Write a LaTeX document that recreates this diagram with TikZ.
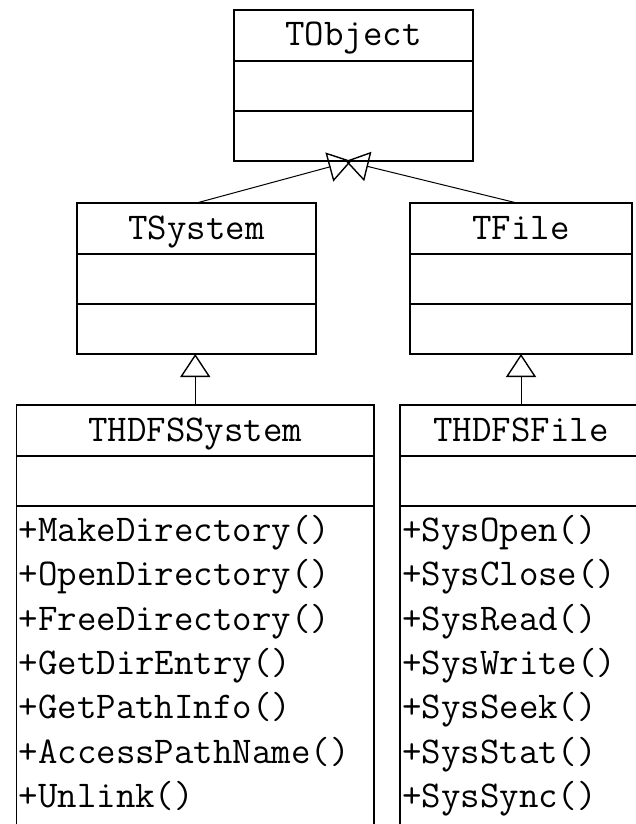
\documentclass[tikz,border=0pt]{standalone}
\usetikzlibrary{positioning,arrows.meta}
\newcommand{\umlfont}{\ttfamily\fontsize{37.8pt}{44.4pt}\selectfont}

\begin{document}
\begin{tikzpicture}[x=1pt,y=-1pt,
    classpart/.style={draw,line width=1.6pt,inner sep=0pt,outer sep=0pt,font=\umlfont},
    classname/.style={classpart,minimum height=51pt,text height=27pt,text depth=6pt},
    classfield/.style={classpart,minimum height=50pt},
    methodlist/.style={font=\umlfont,align=left,inner sep=0pt,anchor=north west},
    inherit/.style={line width=1pt,-{Triangle[open,length=23pt,width=30pt,line width=1.4pt]}}]
  \useasboundingbox (0,0) rectangle (636,824);
  \clip (0,0) rectangle (636,824);

  % base class
  \node[classname,minimum width=239pt] (tobj) at (353.5,35.5) {TObject};
  \node[classfield,minimum width=239pt,below=0pt of tobj] (tobj-attr) {};
  \node[classfield,minimum width=239pt,below=0pt of tobj-attr] (tobj-ops) {};

  % middle level
  \node[classname,minimum width=239pt] (tsys) at (196.5,228.5) {TSystem};
  \node[classfield,minimum width=239pt,below=0pt of tsys] (tsys-attr) {};
  \node[classfield,minimum width=239pt,below=0pt of tsys-attr] (tsys-ops) {};

  \node[classname,minimum width=222pt] (tfile) at (521,228.5) {TFile};
  \node[classfield,minimum width=222pt,below=0pt of tfile] (tfile-attr) {};
  \node[classfield,minimum width=222pt,below=0pt of tfile-attr] (tfile-ops) {};

  % hdfs classes
  \node[classname,minimum width=357.5pt] (hsys) at (195.25,430.5) {THDFSSystem};
  \node[classfield,minimum width=357.5pt,below=0pt of hsys] (hsys-attr) {};
  \node[classpart,minimum width=357.5pt,minimum height=340pt,below=0pt of hsys-attr] (hsys-ops) {};
  \node[methodlist] (hsys-list) at ([xshift=2pt,yshift=-8.8pt]hsys-ops.north west)
    {+MakeDirectory()\\+OpenDirectory()\\+FreeDirectory()\\+GetDirEntry()\\
     +GetPathInfo()\\+AccessPathName()\\+Unlink()};

  \node[classname,minimum width=242pt] (hfile) at (521,430.5) {THDFSFile};
  \node[classfield,minimum width=242pt,below=0pt of hfile] (hfile-attr) {};
  \node[classpart,minimum width=242pt,minimum height=340pt,below=0pt of hfile-attr] (hfile-ops) {};
  \node[methodlist] (hfile-list) at ([xshift=2pt,yshift=-8.8pt]hfile-ops.north west)
    {+SysOpen()\\+SysClose()\\+SysRead()\\+SysWrite()\\
     +SysSeek()\\+SysStat()\\+SysSync()};

  % generalisation
  \draw[inherit] (hsys.north) -- (hsys.north |- tsys-ops.south);
  \draw[inherit] (hfile.north) -- (tfile-ops.south);
  \draw[inherit] (tsys.north) -- ([xshift=-2pt]tobj-ops.south);
  \draw[inherit] ([xshift=-4pt]tfile.north) -- ([xshift=-8pt]tobj-ops.south);
\end{tikzpicture}
\end{document}
